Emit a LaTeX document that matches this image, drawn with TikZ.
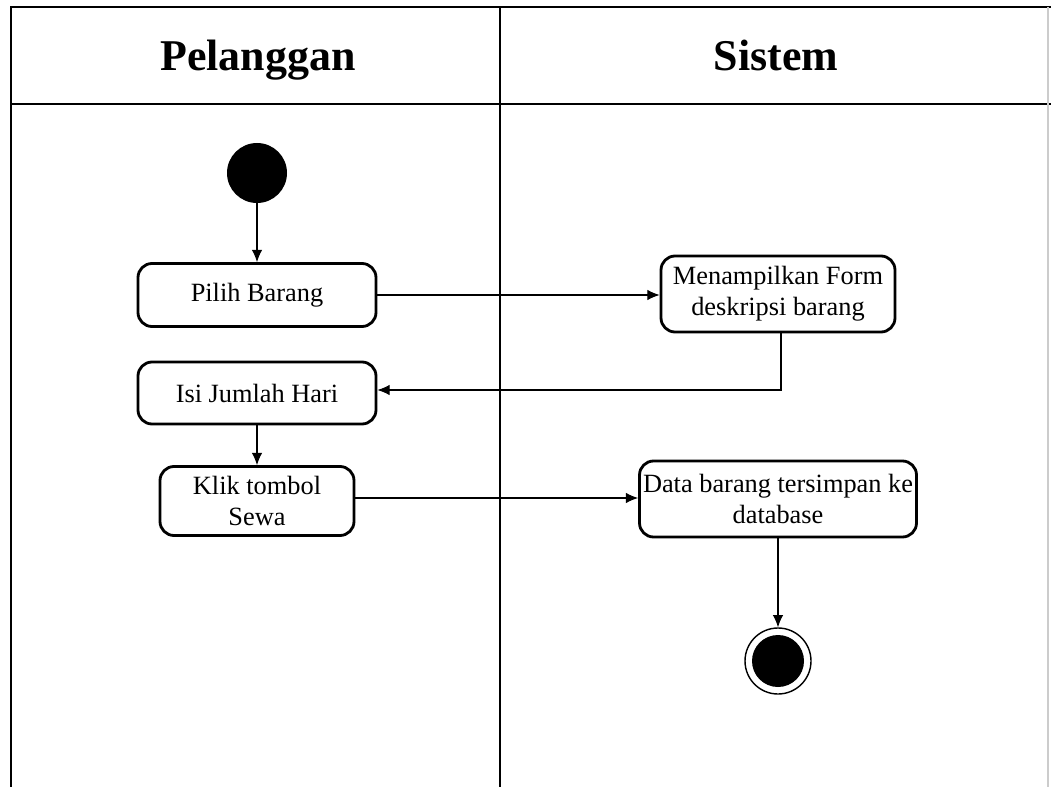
\documentclass[tikz,border=0pt]{standalone}
\usepackage{fontspec}
\setmainfont{Liberation Serif}
\usetikzlibrary{arrows.meta,positioning}
\tikzset{
  act/.style={draw, line width=1.6pt, rounded corners=8pt, fill=white, align=center, inner xsep=1pt, font=\fontsize{15}{17.5}\selectfont},
  lane/.style={line width=1.5pt},
  head/.style={anchor=base, font=\fontsize{25}{28}\selectfont\bfseries},
  flow/.style={-{Latex[length=7pt,width=6pt]}, line width=0.6pt}
}
\begin{document}
\begin{tikzpicture}[x=0.02cm,y=-0.02cm]%swimlane
\useasboundingbox (0,0) rectangle (1051,787);
% lanes
\draw[lane] (11,787) -- (11,7) -- (1051,7);
\draw[lane] (11,104) -- (1051,104);
\draw[lane] (500,7) -- (500,787);
\draw[gray!40, line width=0.8pt] (1048,7) -- (1048,787);
\node[head] (pel) at (258,71) {Pelanggan};
\node[head] (sis) at (776,71) {Sistem};
% activities
\node[circle, fill=black, minimum size=60*0.02cm, inner sep=0pt] (start) at (257,173) {};
\node[act, minimum width=238*0.02cm, minimum height=63*0.02cm] (pilih) at (257,295) {Pilih Barang};
\node[act, minimum width=238*0.02cm, minimum height=62*0.02cm] (isi) at (257,393) {Isi Jumlah Hari};
\node[act, minimum width=194*0.02cm, minimum height=69*0.02cm] (klik) at (257,501) {Klik tombol\\Sewa};
\node[act, minimum width=234*0.02cm, minimum height=76*0.02cm] (form) at (778,294) {Menampilkan Form\\deskripsi barang};
\node[act, minimum width=277*0.02cm, minimum height=76*0.02cm] (data) at (778,499) {Data barang tersimpan ke\\database};
\node[circle, draw, line width=0.8pt, minimum size=66*0.02cm, inner sep=0pt] (end) at (778,661) {};
\fill (end) circle (26*0.02cm);
% flows
\draw[flow] (start) -- (pilih);
\draw[flow] (pilih.east |- 0,295) -- (form.west |- 0,295);
\draw[flow] (form.south -| 781,0) |- (isi.east |- 0,390);
\draw[flow] (isi) -- (klik);
\draw[flow] (klik.east |- 0,498) -- (data.west |- 0,498);
\draw[flow] (data) -- (end);
\end{tikzpicture}
\end{document}
